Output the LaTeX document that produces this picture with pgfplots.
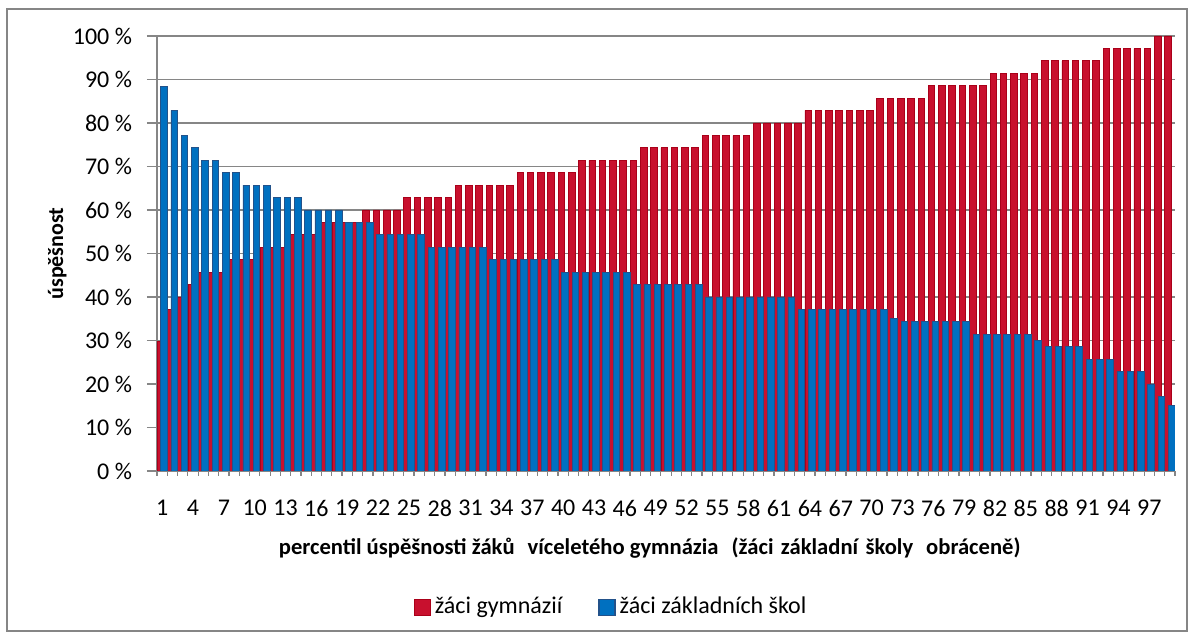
\documentclass[border=0pt]{standalone}
\usepackage{pgfplots}
\pgfplotsset{compat=1.18}
\usepackage{pgfplotstable}
\usepackage{fontspec}
\setmainfont{Carlito}
\definecolor{gred}{RGB}{200,16,46}
\definecolor{gredE}{RGB}{170,0,25}
\definecolor{zblue}{RGB}{0,112,192}
\definecolor{zblueE}{RGB}{35,82,138}
\definecolor{gridc}{RGB}{134,134,134}

\pgfplotstableread{
x g z
1 29.8 88.3
2 37.1 82.9
3 40.0 77.1
4 42.9 74.3
5 45.7 71.4
6 45.7 71.4
7 45.7 68.6
8 48.6 68.6
9 48.6 65.7
10 48.6 65.7
11 51.4 65.7
12 51.4 62.9
13 51.4 62.9
14 54.3 62.9
15 54.3 60.0
16 54.3 60.0
17 57.1 60.0
18 57.1 60.0
19 57.1 57.1
20 57.1 57.1
21 60.0 57.1
22 60.0 54.3
23 60.0 54.3
24 60.0 54.3
25 62.9 54.3
26 62.9 54.3
27 62.9 51.4
28 62.9 51.4
29 62.9 51.4
30 65.7 51.4
31 65.7 51.4
32 65.7 51.4
33 65.7 48.6
34 65.7 48.6
35 65.7 48.6
36 68.6 48.6
37 68.6 48.6
38 68.6 48.6
39 68.6 48.6
40 68.6 45.7
41 68.6 45.7
42 71.4 45.7
43 71.4 45.7
44 71.4 45.7
45 71.4 45.7
46 71.4 45.7
47 71.4 42.9
48 74.3 42.9
49 74.3 42.9
50 74.3 42.9
51 74.3 42.9
52 74.3 42.9
53 74.3 42.9
54 77.1 40.0
55 77.1 40.0
56 77.1 40.0
57 77.1 40.0
58 77.1 40.0
59 80.0 40.0
60 80.0 40.0
61 80.0 40.0
62 80.0 40.0
63 80.0 37.1
64 82.9 37.1
65 82.9 37.1
66 82.9 37.1
67 82.9 37.1
68 82.9 37.1
69 82.9 37.1
70 82.9 37.1
71 85.7 37.1
72 85.7 35.0
73 85.7 34.3
74 85.7 34.3
75 85.7 34.3
76 88.6 34.3
77 88.6 34.3
78 88.6 34.3
79 88.6 34.3
80 88.6 31.4
81 88.6 31.4
82 91.4 31.4
83 91.4 31.4
84 91.4 31.4
85 91.4 31.4
86 91.4 30.0
87 94.3 28.6
88 94.3 28.6
89 94.3 28.6
90 94.3 28.6
91 94.3 25.7
92 94.3 25.7
93 97.1 25.7
94 97.1 22.9
95 97.1 22.9
96 97.1 22.9
97 97.1 20.0
98 100.0 17.1
99 100.0 15.0
}\datatable

\begin{document}
\begin{tikzpicture}[x=1pt,y=1pt]
\useasboundingbox (0,0) rectangle (596.5,318);
\draw[gridc, line width=0.6pt] (3.5,2.5) rectangle (593.5,313.5);
\begin{axis}[
  at={(78.5pt,82.5pt)}, anchor=south west,
  scale only axis, width=509pt, height=217.5pt,
  xmin=0.5, xmax=99.5, ymin=0, ymax=100,
  axis x line*=bottom, axis y line*=left,
  axis line style={gridc, line width=0.7pt, -},
  tick align=outside,
  major tick length=5pt, minor tick length=2.5pt,
  ytick={0,10,...,100},
  yticklabels={0 \%,10 \%,20 \%,30 \%,40 \%,50 \%,60 \%,70 \%,80 \%,90 \%,100 \%},
  xtick={1,4,...,97},
  xticklabels={1,4,7,10,13,16,19,22,25,28,31,34,37,40,43,46,49,52,55,58,61,64,67,70,73,76,79,82,85,88,91,94,97},
  minor xtick={0.5,1.5,...,99.5},
  major x tick style={draw=none},
  minor x tick style={gridc, line width=0.6pt},
  major y tick style={gridc, line width=0.6pt},
  ymajorgrids,
  major grid style={gridc, line width=0.65pt},
  tick label style={font=\fontsize{12}{14}\selectfont},
  xticklabel style={yshift=-6pt},
  yticklabel style={xshift=-4pt},
  xlabel={percentil úspěšnosti žáků\hspace{0.35em} víceletého gymnázia\hspace{0.35em} (žáci\hspace{0.1em} základní\hspace{0.1em} školy\hspace{0.35em} obráceně)},
  ylabel={úspěšnost},
  xlabel style={font=\fontsize{11.3}{13}\selectfont\bfseries, at={(axis description cs:0.484,-0.177)}, anchor=center},
  ylabel style={font=\fontsize{11}{13}\selectfont\bfseries, at={(axis description cs:-0.098,0.5)}, anchor=center},
  legend style={draw=none, fill=none, at={(axis description cs:0.447,-0.313)}, anchor=center,
    legend columns=2, font=\fontsize{12}{14}\selectfont,
    /tikz/every even column/.append style={column sep=16pt}},
]
\addplot[ybar, bar width=0.64, bar shift=-0.17, fill=gred, draw=gredE, line width=0.4pt,
  legend image code/.code={\draw[fill=gred, draw=gredE, line width=0.6pt] (0pt,-4pt) rectangle (8pt,4pt);}]
  table[x=x,y=g]{\datatable};
\addlegendentry{žáci gymnázií}
\addplot[ybar, bar width=0.64, bar shift=0.18, fill=zblue, draw=zblueE, line width=0.4pt,
  legend image code/.code={\draw[fill=zblue, draw=zblueE, line width=0.6pt] (0pt,-4pt) rectangle (8pt,4pt);}]
  table[x=x,y=z]{\datatable};
\addlegendentry{žáci základních škol}
\end{axis}
\end{tikzpicture}
\end{document}
